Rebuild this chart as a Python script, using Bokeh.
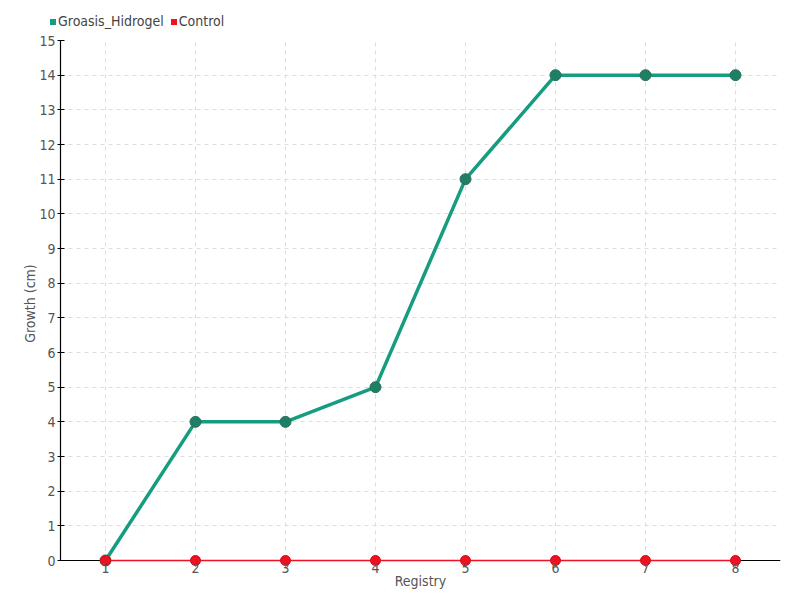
from bokeh.plotting import figure
from bokeh.layouts import column
from bokeh.models import FixedTicker, ColumnDataSource, Span, Div
from bokeh.embed import file_html
from bokeh.resources import INLINE

registry = [1, 2, 3, 4, 5, 6, 7, 8]
groasis_hidrogel = [0, 4, 4, 5, 11, 14, 14, 14]
control = [0, 0, 0, 0, 0, 0, 0, 0]
y_ticks = list(range(0, 16))
series_names = ["Groasis_Hidrogel", "Control"]

FONT = "'DejaVu Sans Condensed', 'Liberation Sans Narrow', Lato, sans-serif"
GREEN = "#169c7e"
GREEN_DARK = "#1d8064"
RED = "#ee1122"

# ---- legend strip (HTML text above the chart) ----
def swatch(color, ml):
    return (f'<span style="display:inline-block;width:6px;height:6px;background:{color};'
            f'margin:0 2px 0 {ml}px;vertical-align:middle;"></span>')

legend_html = (
    f'<div style="position:relative;height:30px;width:800px;font-family:{FONT};'
    f'font-size:14px;color:#444444;">'
    f'<div style="position:absolute;left:50px;top:14px;line-height:14px;white-space:nowrap;">'
    f'{swatch(GREEN, 0)}{series_names[0]}{swatch(RED, 7)}{series_names[1]}'
    f'</div></div>'
)
lf = Div(text=legend_html, width=800, height=30, margin=0)

# ---- main chart ----
p = figure(width=800, height=570, output_backend="svg", toolbar_location=None,
           x_range=(0.5, 8.5), y_range=(-0.173, 15),
           min_border_left=60, min_border_right=20, min_border_top=10, min_border_bottom=34)
p.outline_line_color = None

# x axis baseline at y=0, drawn beneath the series
p.add_layout(Span(location=0, dimension="width", line_color="black", line_width=1.2, level="underlay"))

src_g = ColumnDataSource(dict(x=registry, y=groasis_hidrogel))
src_c = ColumnDataSource(dict(x=registry, y=control))

p.line("x", "y", source=src_g, line_color=GREEN, line_width=3.5)
p.scatter("x", "y", source=src_g, size=11, fill_color=GREEN_DARK, line_color="#2e6e5a", line_width=1)
p.line("x", "y", source=src_c, line_color=RED, line_width=1.5)
p.scatter("x", "y", source=src_c, size=10, fill_color=RED, line_color="#d0101c", line_width=1)

p.xaxis.ticker = FixedTicker(ticks=registry)
p.yaxis.ticker = FixedTicker(ticks=y_ticks)
p.yaxis.bounds = (0, 15)
p.xaxis.axis_label = "Registry"
p.yaxis.axis_label = "Growth (cm)"
for ax in (p.xaxis, p.yaxis):
    ax.axis_label_text_font = FONT
    ax.axis_label_text_font_style = "normal"
    ax.axis_label_text_font_size = "14px"
    ax.axis_label_text_color = "#555555"
    ax.major_label_text_font = FONT
    ax.major_label_text_font_size = "14px"
    ax.major_label_text_color = "#555555"
    ax.minor_tick_line_color = None
    ax.axis_line_color = "black"
    ax.axis_line_width = 1.2
p.xaxis.axis_line_color = None
p.xaxis.major_tick_in = 6
p.xaxis.major_tick_out = 0
p.xaxis.major_tick_line_color = "#555555"
p.xaxis.major_label_standoff = -4
p.xaxis.axis_label_standoff = -3
p.yaxis.major_tick_in = 4
p.yaxis.major_tick_out = 3
p.yaxis.major_tick_line_color = "black"
p.yaxis.major_label_standoff = 2
p.yaxis.axis_label_standoff = -2

p.xgrid.grid_line_color = "#dddddd"
p.ygrid.grid_line_color = "#dddddd"
p.xgrid.grid_line_dash = "4 4"
p.ygrid.grid_line_dash = "4 4"

layout = column(lf, p, spacing=0)
open("out.html", "w").write(file_html(layout, INLINE))
